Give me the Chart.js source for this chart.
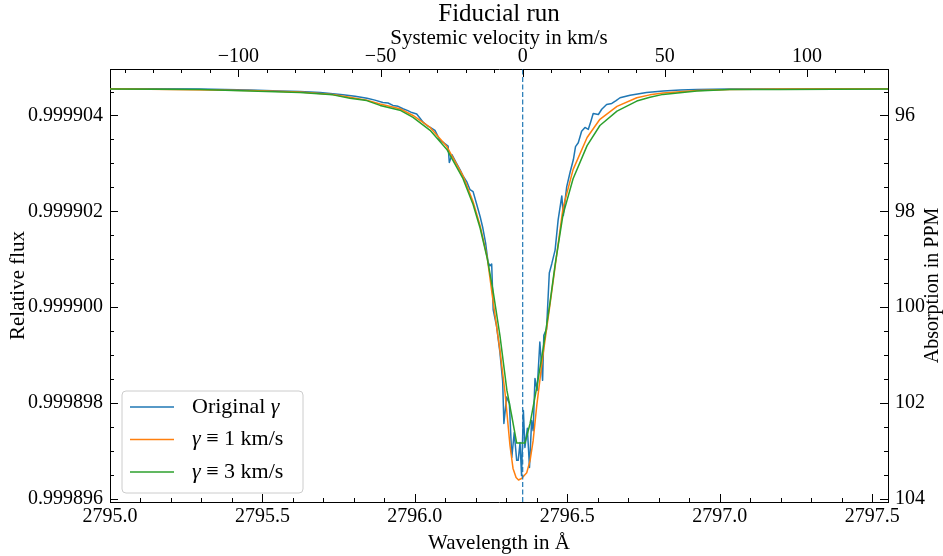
<!DOCTYPE html>
<html>
<head>
<meta charset="utf-8">
<title>Fiducial run</title>
<script src="https://cdn.jsdelivr.net/npm/chart.js@4.4.1/dist/chart.umd.min.js"></script>
<style>
  html, body { margin: 0; padding: 0; background: #fff; }
</style>
</head>
<body>
<canvas id="chart" width="943" height="556"></canvas>
<script>
// Mg II k line profile - fiducial run

// line centre (vacuum wavelength, Angstrom) and speed of light
const LINE_CENTER = 2796.3537;
const C_KMS = 299792.458;

// axis ranges
const WAVE_MIN = 2795.0, WAVE_MAX = 2797.552;
const FLUX_MIN = 0.99989593, FLUX_MAX = 0.99990497;

// tick labels
const waveTicks = [2795.0, 2795.5, 2796.0, 2796.5, 2797.0, 2797.5];
const fluxTicks = [0.999896, 0.999898, 0.999900, 0.999902, 0.999904];
const velocityTicks = [-100, -50, 0, 50, 100];
const ppmTicks = [96, 98, 100, 102, 104];

// Original gamma (noisy)
const originalWave = [2795.000, 2795.131, 2795.295, 2795.459, 2795.558, 2795.623, 2795.689, 2795.764, 2795.804, 2795.843,
  2795.869, 2795.895, 2795.912, 2795.928, 2795.945, 2795.961, 2795.977, 2795.990, 2796.006, 2796.017,
  2796.027, 2796.040, 2796.053, 2796.066, 2796.076, 2796.082, 2796.095, 2796.109, 2796.113, 2796.122,
  2796.135, 2796.148, 2796.158, 2796.170, 2796.181, 2796.191, 2796.203, 2796.214, 2796.223, 2796.232,
  2796.240, 2796.246, 2796.252, 2796.257, 2796.268, 2796.279, 2796.288, 2796.292, 2796.301, 2796.310,
  2796.318, 2796.326, 2796.334, 2796.339, 2796.345, 2796.350, 2796.356, 2796.361, 2796.369, 2796.376,
  2796.383, 2796.388, 2796.394, 2796.401, 2796.410, 2796.419, 2796.423, 2796.432, 2796.441, 2796.449,
  2796.460, 2796.470, 2796.482, 2796.487, 2796.498, 2796.509, 2796.520, 2796.527, 2796.536, 2796.547,
  2796.558, 2796.569, 2796.577, 2796.585, 2796.602, 2796.613, 2796.629, 2796.646, 2796.660, 2796.673,
  2796.706, 2796.760, 2796.815, 2796.870, 2796.925, 2797.033, 2797.197, 2797.361, 2797.552];
const originalFlux = [0.99990456, 0.99990456, 0.99990455, 0.99990453, 0.99990451, 0.99990450, 0.99990448, 0.99990443, 0.99990440, 0.99990436,
  0.99990432, 0.99990427, 0.99990426, 0.99990421, 0.99990419, 0.99990414, 0.99990410, 0.99990406, 0.99990403, 0.99990394,
  0.99990386, 0.99990379, 0.99990374, 0.99990369, 0.99990356, 0.99990348, 0.99990343, 0.99990336, 0.99990302, 0.99990318,
  0.99990302, 0.99990287, 0.99990274, 0.99990262, 0.99990245, 0.99990241, 0.99990214, 0.99990189, 0.99990165, 0.99990134,
  0.99990094, 0.99990086, 0.99990090, 0.99989994, 0.99989960, 0.99989906, 0.99989845, 0.99989757, 0.99989812, 0.99989799,
  0.99989686, 0.99989738, 0.99989680, 0.99989680, 0.99989717, 0.99989648, 0.99989784, 0.99989707, 0.99989747, 0.99989665,
  0.99989763, 0.99989742, 0.99989851, 0.99989826, 0.99989927, 0.99989847, 0.99989941, 0.99989954, 0.99990071, 0.99990090,
  0.99990119, 0.99990182, 0.99990232, 0.99990191, 0.99990251, 0.99990281, 0.99990308, 0.99990335, 0.99990343, 0.99990367,
  0.99990375, 0.99990371, 0.99990387, 0.99990404, 0.99990402, 0.99990413, 0.99990423, 0.99990425, 0.99990431, 0.99990437,
  0.99990442, 0.99990448, 0.99990451, 0.99990453, 0.99990454, 0.99990455, 0.99990455, 0.99990456, 0.99990456];

// gamma = 1 km/s
const gamma1Wave = [2795.000, 2795.459, 2795.623, 2795.731, 2795.787, 2795.842, 2795.886, 2795.951, 2795.994, 2796.050,
  2796.105, 2796.158, 2796.191, 2796.214, 2796.237, 2796.256, 2796.279, 2796.296, 2796.312, 2796.322,
  2796.332, 2796.340, 2796.350, 2796.367, 2796.378, 2796.388, 2796.400, 2796.410, 2796.420, 2796.443,
  2796.460, 2796.486, 2796.519, 2796.565, 2796.607, 2796.663, 2796.728, 2796.771, 2796.814, 2796.925,
  2797.033, 2797.197, 2797.552];
const gamma1Flux = [0.99990456, 0.99990452, 0.99990449, 0.99990444, 0.99990438, 0.99990432, 0.99990424, 0.99990414, 0.99990400, 0.99990375,
  0.99990335, 0.99990274, 0.99990220, 0.99990170, 0.99990105, 0.99990015, 0.99989910, 0.99989820, 0.99989711, 0.99989663,
  0.99989644, 0.99989639, 0.99989642, 0.99989654, 0.99989680, 0.99989721, 0.99989795, 0.99989847, 0.99989899, 0.99990004,
  0.99990084, 0.99990207, 0.99990287, 0.99990354, 0.99990392, 0.99990419, 0.99990437, 0.99990443, 0.99990447, 0.99990452,
  0.99990454, 0.99990455, 0.99990456];

// gamma = 3 km/s
const gamma3Wave = [2795.000, 2795.295, 2795.459, 2795.623, 2795.731, 2795.787, 2795.842, 2795.886, 2795.951, 2795.994,
  2796.050, 2796.105, 2796.158, 2796.191, 2796.214, 2796.237, 2796.256, 2796.279, 2796.302, 2796.318,
  2796.334, 2796.361, 2796.378, 2796.400, 2796.420, 2796.443, 2796.460, 2796.486, 2796.519, 2796.565,
  2796.607, 2796.663, 2796.728, 2796.771, 2796.814, 2796.925, 2797.033, 2797.197, 2797.552];
const gamma3Flux = [0.99990455, 0.99990454, 0.99990451, 0.99990448, 0.99990443, 0.99990436, 0.99990431, 0.99990421, 0.99990411, 0.99990396,
  0.99990369, 0.99990329, 0.99990268, 0.99990214, 0.99990165, 0.99990103, 0.99990036, 0.99989941, 0.99989826, 0.99989772,
  0.99989716, 0.99989716, 0.99989757, 0.99989833, 0.99989910, 0.99990008, 0.99990088, 0.99990193, 0.99990268, 0.99990337,
  0.99990379, 0.99990409, 0.99990430, 0.99990438, 0.99990444, 0.99990451, 0.99990454, 0.99990454, 0.99990455];

const SERIF = '"Liberation Serif", "DejaVu Serif", serif';

function toPoints(xs, ys) {
    return xs.map((x, i) => ({ x: x, y: ys[i] }));
}

function toVelocity(wave) {
    return C_KMS * (wave - LINE_CENTER) / LINE_CENTER;
}

function toPPM(flux) {
    return (1 - flux) * 1e6;
}

function minusSign(v) {
    return v < 0 ? '\u2212' + Math.abs(v) : String(v);
}

// inward major + minor ticks on all four sides
const innerTicks = {
    id: 'innerTicks',
    afterDraw(chart) {
        const { ctx, chartArea: a, scales } = chart;
        ctx.save();
        ctx.strokeStyle = '#000';
        ctx.lineWidth = 1;

        const mark = (scale, v, len) => {
            const p = Math.round(scale.getPixelForValue(v)) + 0.5;
            ctx.beginPath();
            if (scale.position === 'bottom') { ctx.moveTo(p, a.bottom); ctx.lineTo(p, a.bottom - len); }
            else if (scale.position === 'top') { ctx.moveTo(p, a.top); ctx.lineTo(p, a.top + len); }
            else if (scale.position === 'left') { ctx.moveTo(a.left, p); ctx.lineTo(a.left + len, p); }
            else { ctx.moveTo(a.right, p); ctx.lineTo(a.right - len, p); }
            ctx.stroke();
        };
        const minors = (scale, step) => {
            const lo = Math.min(scale.min, scale.max), hi = Math.max(scale.min, scale.max);
            const k0 = Math.ceil(lo / step - 1e-6), k1 = Math.floor(hi / step + 1e-6);
            for (let k = k0; k <= k1; k++) mark(scale, k * step, 4);
        };

        minors(scales.x, 0.1);
        minors(scales.xTop, 10);
        minors(scales.y, 0.0000005);
        minors(scales.yRight, 0.5);
        waveTicks.forEach(v => mark(scales.x, v, 8));
        velocityTicks.forEach(v => mark(scales.xTop, v, 8));
        fluxTicks.forEach(v => mark(scales.y, v, 8));
        ppmTicks.forEach(v => mark(scales.yRight, v, 8));

        // right axis title reads bottom to top
        ctx.fillStyle = '#000';
        ctx.font = `20px ${SERIF}`;
        ctx.textAlign = 'center';
        ctx.textBaseline = 'middle';
        ctx.translate(933, (a.top + a.bottom) / 2);
        ctx.rotate(-Math.PI / 2);
        ctx.fillText('Absorption in PPM', 0, 0);
        ctx.restore();
    }
};

// legend box in lower left corner of the plot
const legendBox = {
    id: 'legendBox',
    afterDraw(chart) {
        const { ctx, chartArea: a } = chart;
        const items = chart.data.datasets.filter(d => d.inLegend !== false);
        const normal = `22px ${SERIF}`, italic = `italic 22px ${SERIF}`;
        ctx.save();

        const left = a.left + 12, bottom = a.bottom - 9;
        const w = 181, h = 102, top = bottom - h, r = 4;

        ctx.beginPath();
        ctx.moveTo(left + r, top);
        ctx.arcTo(left + w, top, left + w, top + h, r);
        ctx.arcTo(left + w, top + h, left, top + h, r);
        ctx.arcTo(left, top + h, left, top, r);
        ctx.arcTo(left, top, left + w, top, r);
        ctx.closePath();
        ctx.fillStyle = 'rgba(255,255,255,0.8)';
        ctx.fill();
        ctx.strokeStyle = '#cccccc';
        ctx.lineWidth = 1;
        ctx.stroke();

        items.forEach((d, i) => {
            const y = top + 16 + i * 32.5;
            ctx.strokeStyle = d.borderColor;
            ctx.lineWidth = 1.5;
            ctx.beginPath();
            ctx.moveTo(left + 8, y);
            ctx.lineTo(left + 52, y);
            ctx.stroke();

            let x = left + 70;
            ctx.fillStyle = '#000';
            ctx.textBaseline = 'middle';
            d.label.split(/(γ)/).filter(s => s.length).forEach(s => {
                ctx.font = s === 'γ' ? italic : normal;
                ctx.fillText(s, x, y);
                x += ctx.measureText(s).width;
            });
        });
        ctx.restore();
    }
};

const tickFont = { family: SERIF, size: 20 };
const titleFont = { family: SERIF, size: 21, lineHeight: 1 };

const ctx = document.getElementById('chart').getContext('2d');
const chart = new Chart(ctx, {
    type: 'line',
    data: {
        datasets: [
            {
                label: 'Original γ',
                data: toPoints(originalWave, originalFlux),
                borderColor: '#1f77b4',
                borderWidth: 1.5,
                pointRadius: 0,
                tension: 0,
                borderJoinStyle: 'round',
                order: 2
            },
            {
                label: 'γ ≡ 1 km/s',
                data: toPoints(gamma1Wave, gamma1Flux),
                borderColor: '#ff7f0e',
                borderWidth: 1.5,
                pointRadius: 0,
                tension: 0,
                borderJoinStyle: 'round',
                order: 1
            },
            {
                label: 'γ ≡ 3 km/s',
                data: toPoints(gamma3Wave, gamma3Flux),
                borderColor: '#2ca02c',
                borderWidth: 1.5,
                pointRadius: 0,
                tension: 0,
                borderJoinStyle: 'round',
                order: 0
            },
            {
                label: 'line centre',
                data: [{ x: LINE_CENTER, y: FLUX_MIN }, { x: LINE_CENTER, y: FLUX_MAX }],
                borderColor: '#1f77b4',
                borderWidth: 1.2,
                borderDash: [5, 2.5],
                pointRadius: 0,
                order: -1,
                inLegend: false
            }
        ]
    },
    options: {
        responsive: false,
        animation: false,
        devicePixelRatio: 1,
        layout: { padding: 0 },
        plugins: {
            legend: { display: false },
            tooltip: { enabled: false },
            title: {
                display: true,
                text: 'Fiducial run',
                color: '#000',
                fullSize: false,
                font: { family: SERIF, size: 25, weight: 'normal', lineHeight: 1 },
                padding: { top: 2, bottom: 0 }
            }
        },
        scales: {
            x: {
                type: 'linear',
                position: 'bottom',
                min: WAVE_MIN,
                max: WAVE_MAX,
                afterBuildTicks: s => { s.ticks = waveTicks.map(v => ({ value: v })); },
                afterFit: s => { s.height = 54; },
                grid: { display: false, drawTicks: false },
                border: { display: true, color: '#000', width: 1 },
                ticks: { color: '#000', font: tickFont, padding: 3, maxRotation: 0, autoSkip: false,
                         callback: v => v.toFixed(1) },
                title: { display: true, text: 'Wavelength in Å', color: '#000', font: titleFont,
                         padding: { top: 0, bottom: 2 } }
            },
            xTop: {
                type: 'linear',
                axis: 'x',
                position: 'top',
                min: toVelocity(WAVE_MIN),
                max: toVelocity(WAVE_MAX),
                afterBuildTicks: s => { s.ticks = velocityTicks.map(v => ({ value: v })); },
                afterFit: s => { s.height = 42; },
                grid: { display: false, drawTicks: false },
                border: { display: true, color: '#000', width: 1 },
                ticks: { color: '#000', font: tickFont, padding: 0, maxRotation: 0, autoSkip: false,
                         callback: v => minusSign(v) },
                title: { display: true, text: 'Systemic velocity in km/s', color: '#000', font: titleFont,
                         padding: { top: 0.5, bottom: 0 } }
            },
            y: {
                type: 'linear',
                position: 'left',
                min: FLUX_MIN,
                max: FLUX_MAX,
                afterBuildTicks: s => { s.ticks = fluxTicks.map(v => ({ value: v })); },
                afterFit: s => { s.width = 110; },
                grid: { display: false, drawTicks: false },
                border: { display: true, color: '#000', width: 1 },
                ticks: { color: '#000', font: tickFont, padding: 7, autoSkip: false,
                         callback: v => v.toFixed(6) },
                title: { display: true, text: 'Relative flux', color: '#000', font: titleFont,
                         padding: { top: 7.5, bottom: 0 } }
            },
            yRight: {
                type: 'linear',
                axis: 'y',
                position: 'right',
                reverse: true,
                min: toPPM(FLUX_MAX),
                max: toPPM(FLUX_MIN),
                afterBuildTicks: s => { s.ticks = ppmTicks.map(v => ({ value: v })); },
                afterFit: s => { s.width = 55; },
                grid: { display: false, drawTicks: false },
                border: { display: true, color: '#000', width: 1 },
                ticks: { color: '#000', font: tickFont, padding: 7, autoSkip: false,
                         callback: v => String(Math.round(v)) }
            }
        }
    },
    plugins: [innerTicks, legendBox]
});
</script>
</body>
</html>
